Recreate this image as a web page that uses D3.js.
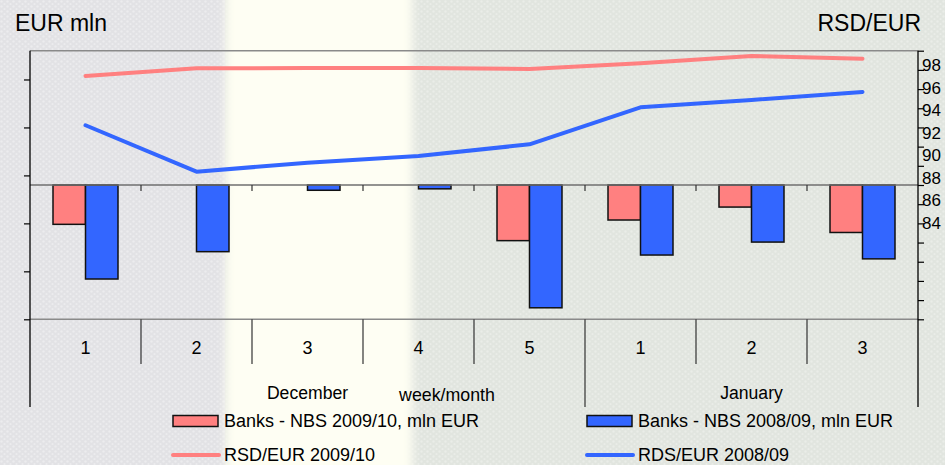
<!DOCTYPE html>
<html>
<head>
<meta charset="utf-8">
<script src="https://cdn.jsdelivr.net/npm/d3@7"></script>
<style>
  html, body { margin: 0; padding: 0; background: #ffffff; }
  svg { display: block; }
  text { font-family: "Liberation Sans", Arial, sans-serif; fill: #000; }
</style>
</head>
<body>
<svg id="chart" width="945" height="465"></svg>
<script>
// Weekly net flows banks -> NBS (EUR mln) and the dinar exchange rate
const weeks = ["1", "2", "3", "4", "5", "1", "2", "3"];
const months = [
  { name: "December", index: 2 },
  { name: "January", index: 6 }
];
const monthBreak = 5; // first week of January
const banks0910 = [-82, null, null, null, -116, -73, -46, -99];
const banks0809 = [-196, -139, -11, -8, -256, -146, -119, -154];
const rsd0910 = [97.03, 97.71, 97.73, 97.73, 97.65, 98.15, 98.80, 98.56];
const rds0809 = [92.66, 88.55, 89.34, 89.94, 90.97, 94.25, 94.90, 95.61];
const eurTicks = d3.range(-280, 221, 100);
const rateTicks = [84, 86, 88, 90, 92, 94, 96, 98];
const seriesNames = [
  "Banks - NBS 2009/10, mln EUR",
  "Banks - NBS 2008/09, mln EUR",
  "RSD/EUR 2009/10",
  "RDS/EUR 2008/09"
];

const RED = "#FF8080", BLUE = "#3366FF";
const svg = d3.select("#chart");
const W = 945, H = 465;
const plot = { left: 30, right: 918, top: 50.7, bottom: 319.3, axisEnd: 407 };

// ---- paper background ----
const defs = svg.append("defs");
function grain(id, base, dot) {
  const p = defs.append("pattern").attr("id", id)
    .attr("width", 6).attr("height", 5).attr("patternUnits", "userSpaceOnUse");
  p.append("rect").attr("width", 6).attr("height", 5).attr("fill", base);
  p.append("circle").attr("cx", 1.5).attr("cy", 1.5).attr("r", 1.2).attr("fill", dot);
  p.append("circle").attr("cx", 4.5).attr("cy", 4).attr("r", 1.1).attr("fill", dot);
}
grain("grainL", "#E2E2E5", "#ECECEE");
grain("grainR", "#E1E5DF", "#EAEDE8");
const soft = defs.append("filter").attr("id", "soft").attr("x", "-5%").attr("width", "110%");
soft.append("feGaussianBlur").attr("stdDeviation", 4);

svg.append("rect").attr("width", W).attr("height", H).attr("fill", "url(#grainR)");
svg.append("rect").attr("x", -20).attr("y", -20).attr("width", 245).attr("height", H + 40)
  .attr("fill", "url(#grainL)");
svg.append("rect").attr("x", 226).attr("y", -20).attr("width", 186).attr("height", H + 40)
  .attr("fill", "#FEFEF3").attr("filter", "url(#soft)");

// ---- scales ----
const x = d3.scaleBand().domain(d3.range(weeks.length)).range([plot.left, plot.right]);
const xSub = d3.scaleBand().domain([0, 1]).range([23, 88]);
const yL = d3.scaleLinear().domain([-280, 280]).range([plot.bottom, plot.top]);
const yR = d3.scaleLinear().domain([84, 98]).range([223, 65]);
const yTick = d3.scaleLinear().domain([0, 14]).range([plot.bottom, plot.top]);

// ---- frame lines ----
const g = svg.append("g");
g.append("line").attr("x1", plot.left).attr("x2", plot.right)
  .attr("y1", plot.top).attr("y2", plot.top).attr("stroke", "#8a8a8a").attr("stroke-width", 1.5);
g.append("line").attr("x1", plot.left).attr("x2", plot.right)
  .attr("y1", plot.bottom).attr("y2", plot.bottom).attr("stroke", "#8a8a8a").attr("stroke-width", 1.5);

// category dividers below the plot
const bounds = d3.range(1, weeks.length).map(i => x(i));
g.selectAll(".div").data(d3.range(1, weeks.length)).join("line")
  .attr("x1", i => x(i)).attr("x2", i => x(i))
  .attr("y1", plot.bottom)
  .attr("y2", i => i === monthBreak ? plot.axisEnd : 364)
  .attr("stroke", "#333").attr("stroke-width", 1.2);

// ---- bars ----
const barData = [];
weeks.forEach((w, i) => {
  [banks0910[i], banks0809[i]].forEach((v, s) => {
    if (v !== null) barData.push({ i, s, v });
  });
});
g.selectAll(".bar").data(barData).join("rect")
  .attr("x", d => x(d.i) + xSub(d.s))
  .attr("width", xSub.bandwidth())
  .attr("y", d => Math.min(yL(0), yL(d.v)))
  .attr("height", d => Math.abs(yL(d.v) - yL(0)))
  .attr("fill", d => d.s === 0 ? RED : BLUE)
  .attr("stroke", "#111").attr("stroke-width", 1.5);

// zero line with small week ticks
g.append("line").attr("x1", plot.left).attr("x2", plot.right)
  .attr("y1", yL(0)).attr("y2", yL(0)).attr("stroke", "#6f6f6f").attr("stroke-width", 1.5);
g.selectAll(".zt").data(bounds).join("line")
  .attr("x1", d => d).attr("x2", d => d)
  .attr("y1", yL(0)).attr("y2", yL(0) + 6)
  .attr("stroke", "#333").attr("stroke-width", 1.2);

// ---- exchange rate lines ----
const line = d3.line().x((d, i) => x(i) + x.bandwidth() / 2).y(d => yR(d));
[[rsd0910, RED], [rds0809, BLUE]].forEach(([vals, c]) => {
  g.append("path").datum(vals).attr("d", line)
    .attr("fill", "none").attr("stroke", c).attr("stroke-width", 4)
    .attr("stroke-linejoin", "round").attr("stroke-linecap", "round");
});

// ---- axes ----
const leftAxis = svg.append("g").attr("transform", `translate(${plot.left},0)`)
  .call(d3.axisLeft(yL).tickValues(eurTicks).tickFormat("").tickSize(6).tickSizeOuter(0));
leftAxis.select(".domain").remove();
leftAxis.selectAll(".tick line").attr("stroke", "#000").attr("stroke-width", 1.2);
svg.append("line").attr("x1", plot.left).attr("x2", plot.left)
  .attr("y1", plot.top).attr("y2", plot.axisEnd).attr("stroke", "#000").attr("stroke-width", 1.3);

const rightTicks = svg.append("g").attr("transform", `translate(${plot.right},0)`)
  .call(d3.axisRight(yTick).ticks(14).tickFormat("").tickSize(6).tickSizeOuter(0));
rightTicks.select(".domain").remove();
rightTicks.selectAll(".tick line").attr("stroke", "#000").attr("stroke-width", 1.2);
svg.append("line").attr("x1", plot.right).attr("x2", plot.right)
  .attr("y1", plot.top).attr("y2", plot.axisEnd).attr("stroke", "#000").attr("stroke-width", 1.3);

const rightLabels = svg.append("g").attr("transform", `translate(${plot.right},0)`)
  .call(d3.axisRight(yR).tickValues(rateTicks).tickSize(0).tickPadding(4));
rightLabels.select(".domain").remove();
rightLabels.selectAll("text")
  .style("font-family", '"Liberation Sans", Arial, sans-serif')
  .style("font-size", "17px").attr("fill", "#000");

// week labels
const bottomAxis = svg.append("g").attr("transform", `translate(0,${plot.bottom})`)
  .call(d3.axisBottom(x).tickFormat(i => weeks[i]).tickSize(0).tickPadding(22));
bottomAxis.select(".domain").remove();
bottomAxis.selectAll("text")
  .style("font-family", '"Liberation Sans", Arial, sans-serif')
  .style("font-size", "18px").attr("fill", "#000");

// month names and axis title
svg.selectAll(".month").data(months).join("text")
  .attr("x", d => x(d.index) + x.bandwidth() / 2).attr("y", 399)
  .attr("text-anchor", "middle").style("font-size", "17.6px").text(d => d.name);
svg.append("text").attr("x", 447).attr("y", 401).attr("text-anchor", "middle")
  .style("font-size", "17.8px").text("week/month");

svg.append("text").attr("x", 15).attr("y", 31).style("font-size", "23px").text("EUR mln");
svg.append("text").attr("x", 921).attr("y", 31).attr("text-anchor", "end")
  .style("font-size", "23px").text("RSD/EUR");

// ---- legend ----
const legendPos = [[173, 421], [587, 421], [173, 455], [587, 455]];
seriesNames.forEach((name, k) => {
  const [lx, ly] = legendPos[k];
  const c = k % 2 === 0 ? RED : BLUE;
  if (k < 2) {
    svg.append("rect").attr("x", lx).attr("y", ly - 5.5).attr("width", 45).attr("height", 11)
      .attr("fill", c).attr("stroke", "#111").attr("stroke-width", 1.5);
  } else {
    svg.append("line").attr("x1", lx).attr("x2", lx + 46).attr("y1", ly).attr("y2", ly)
      .attr("stroke", c).attr("stroke-width", 4).attr("stroke-linecap", "round");
  }
  svg.append("text").attr("x", lx + 51).attr("y", ly + 6)
    .style("font-size", "18px").text(name);
});
</script>
</body>
</html>
